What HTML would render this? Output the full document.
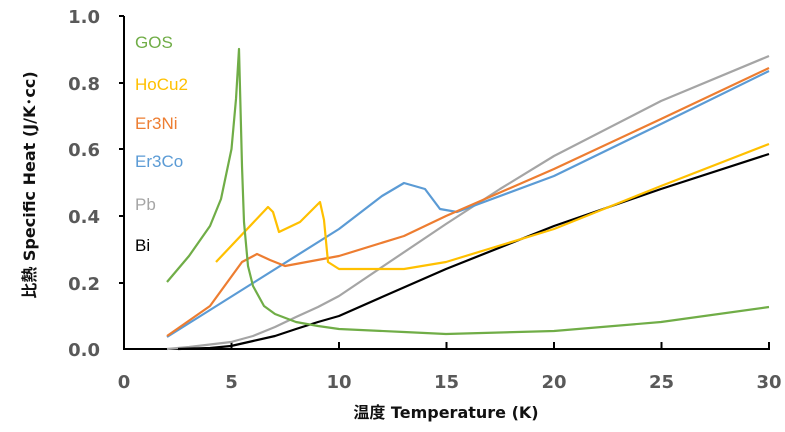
<!DOCTYPE html>
<html><head><meta charset="utf-8"><style>
html,body{margin:0;padding:0;background:#fff;}
svg{display:block;}
.t{font-family:"DejaVu Sans","Noto Sans CJK JP",sans-serif;font-weight:bold;font-size:18px;fill:#595959;}
.l{font-family:"Liberation Sans","Noto Sans CJK JP",sans-serif;font-size:17px;}
</style></head><body>
<svg width="785" height="432" viewBox="0 0 785 432" xmlns="http://www.w3.org/2000/svg">
<g stroke="#000" stroke-width="2" fill="none">
<polyline points="124,16 124,349 770,349"/>
<path d="M119,16H124M119,83H124M119,149H124M119,216H124M119,283H124M231.5,349V342M339,349V342M446.5,349V342M554,349V342M661.5,349V342M769,349V342"/>
</g>
<g class="t" text-anchor="end">
<text x="100" y="23">1.0</text><text x="100" y="90">0.8</text><text x="100" y="156">0.6</text>
<text x="100" y="223">0.4</text><text x="100" y="290">0.2</text><text x="100" y="356">0.0</text>
</g>
<g class="t" text-anchor="middle">
<text x="124" y="388">0</text><text x="231.5" y="388">5</text><text x="339" y="388">10</text>
<text x="446.5" y="388">15</text><text x="554" y="388">20</text><text x="661.5" y="388">25</text><text x="769" y="388">30</text>
<text x="446" y="418" font-size="16" fill="#111">温度 Temperature (K)</text>
<text transform="translate(35,185) rotate(-90)" font-size="16" fill="#111">比熱 Specific Heat (J/K･cc)</text>
</g>
<g class="l">
<text x="135" y="48" fill="#70ad47">GOS</text>
<text x="135" y="90" fill="#ffc000">HoCu2</text>
<text x="135" y="129" fill="#ed7d31">Er3Ni</text>
<text x="135" y="167" fill="#5b9bd5">Er3Co</text>
<text x="135" y="210" fill="#a5a5a5">Pb</text>
<text x="135" y="251" fill="#000">Bi</text>
</g>
<g fill="none" stroke-width="2.2" stroke-linejoin="round">
<polyline stroke="#a5a5a5" points="167,349 189,347 231,342 253,336 275,327 296,317 318,307 339,296 382,267 446,224 500,189 554,156 661,101 769,56"/>
<polyline stroke="#000" points="178,349 210,348 231,346 253,341 275,336 296,329 318,322 339,316 382,297 446,269 554,226 661,189 769,154"/>
<polyline stroke="#5b9bd5" points="167,337 253,283 339,229 382,196 404,183 425,189 440,209 457,212 554,176 661,124 769,71"/>
<polyline stroke="#ed7d31" points="167,336 210,306 242,262 257,254 270,260 285,266 339,256 404,236 446,216 554,169 661,119 769,68"/>
<polyline stroke="#ffc000" points="216,262 268,207 273,212 279,232 300,222 320,202 324,220 328,262 339,269 404,269 446,262 554,229 661,186 769,144"/>
<polyline stroke="#70ad47" points="167,282 189,256 210,226 221,199 231.5,149 236,99 239,49 242,166 244,222 248,266 253,286 264,306 275,314 296,322 318,326 339,329 404,332 446,334 554,331 661,322 769,307"/>
</g>
</svg>
</body></html>
